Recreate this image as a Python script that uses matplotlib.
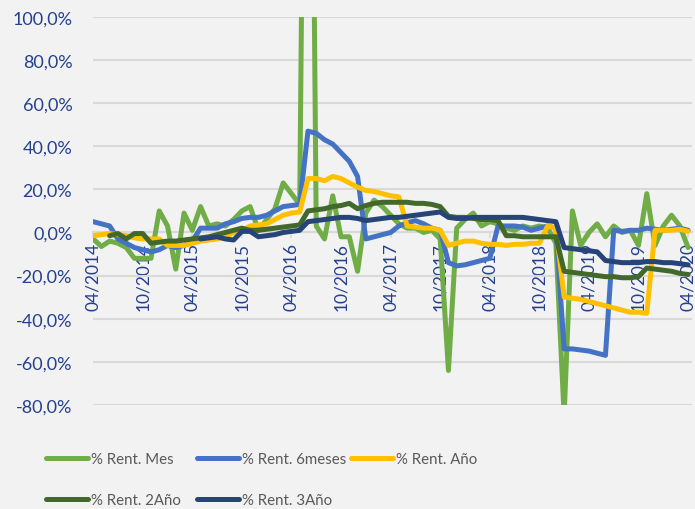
import numpy as np
import matplotlib.pyplot as plt
from matplotlib.ticker import FuncFormatter

plt.rcParams['font.family'] = ['Lato', 'DejaVu Sans']

nan = np.nan
# meses desde 04/2014 hasta 04/2020
months = np.arange(73)
tick_labels = ['04/2014', '10/2014', '04/2015', '10/2015', '04/2016', '10/2016',
               '04/2017', '10/2017', '04/2018', '10/2018', '04/2019', '10/2019',
               '04/2020']

rent_mes = [-3, -6.5, -4, -5, -7, -12, -12, -12, 10, 3, -17, 9, 1, 12, 3, 4, 3, 6,
            10, 12, 1, 6, 11, 23, 18, 13, 430, 3, -3, 17, -2, -2, -18, 9, 15, 12,
            8, 4, 2, 2, 0, 1, -3, -64, 2, 6, 9, 3, 5, 4, 2, 1, 3, 2, 3, 2, -5,
            -85, 10, -6, 0, 4, -2, 3, 0, 1, -6, 18, -6, 3, 8, 3, -7]
rent_6m = [5, 4, 3, -3, -5, -7, -8, -9, -8, -6, -7, -6, -4, 2, 2, 2, 4, 5, 6.5,
           7, 7, 8, 10, 12, 12.5, 13, 47, 46, 43, 41, 37, 33, 26, -3, -2, -1, 0,
           3, 4.5, 5.5, 4, 2, 1, -14, -15.5, -15, -14, -13, -12, 3, 3, 3, 2.5,
           1, 2, 3, 2, -54, -54, -54.5, -55, -56, -57, 1, 0.5, 1, 1, 2, 1.5, 1,
           1.5, 2, 1]
rent_ano = [-1.5, -1, -0.5, -1, -1.5, -2.5, -3, -3, -3, -6, -6, -6, -5, -4, -3.5,
            -3, -2, 0, 1, 3, 3.5, 4, 6, 8, 9, 9.5, 25, 25, 24, 26, 25, 23, 21,
            19.5, 19, 18, 17, 16.5, 3, 2.5, 2, 2, 1, -6, -5, -4, -4, -5, -5.5,
            -5.5, -6, -5.5, -5.5, -5, -5, 3, 2, -30, -30.5, -31, -32, -33, -34,
            -35, -36, -37, -37, -37.5, 1, 1, 1, 1.5, 0.5]
rent_2ano = [nan, nan, -1.5, -0.5, -3, -0.5, -0.5, -5, -4.5, -4, -4, -3.5, -3,
             -2.5, -2, -1, 0, 1, 2, 1, 1, 1.5, 2, 2.5, 3, 3.5, 10, 10.5, 11, 12,
             12.5, 13.5, 11, 12.5, 13.5, 14, 14, 14, 14, 13.5, 13.5, 13, 12, 7.5,
             7, 7, 6.5, 6, 6, 5.5, -1.5, -1.5, -2, -2, -2, -2, -2, -18, -18.5,
             -19, -19.5, -20, -20.5, -20.5, -21, -21, -20.5, -16.5, -17, -17.5,
             -18, -19, -19.5]
rent_3ano = [nan] * 13 + [-3, -2.5, -2, -3, -3.5, 0.5, 0.5, -2, -1.5, -1, 0, 0.5,
                          1, 5, 5.5, 6, 6.5, 7, 7, 6.5, 5.5, 6, 6.5, 7, 7, 7.5, 8,
                          8.5, 9, 9.5, 7, 6.5, 6.5, 7, 7, 7, 7, 7, 7, 7, 6.5, 6,
                          5.5, 5, -7, -7.5, -8, -8.5, -9, -13, -13.5, -14, -14,
                          -14, -13.5, -13.5, -14, -14, -14.5, -15]

series = [
    ('% Rent. Mes', rent_mes, '#70AD47'),
    ('% Rent. 6meses', rent_6m, '#4472C4'),
    ('% Rent. Año', rent_ano, '#FFC000'),
    ('% Rent. 2Año', rent_2ano, '#43682B'),
    ('% Rent. 3Año', rent_3ano, '#264478'),
]

bg = '#F2F2F2'
grid_c = '#D9D9D9'
lab_c = '#24408E'

fig = plt.figure(figsize=(6.95, 5.10), dpi=100, facecolor=bg)
ax = fig.add_axes([0.134, 0.204, 0.862, 0.761], facecolor=bg)

lines = {}
for name, vals, col in series:
    lines[name], = ax.plot(months, vals, color=col, lw=3.6, label=name,
                           solid_joinstyle='round', solid_capstyle='round', zorder=3)

ax.set_ylim(-80, 100)
ax.set_xlim(0, 72.5)
ax.grid(axis='y', color=grid_c, lw=1.5, zorder=0)
for s in ['top', 'right', 'left']:
    ax.spines[s].set_visible(False)
ax.spines['bottom'].set_position(('data', 0))
ax.spines['bottom'].set_color(grid_c)
ax.spines['bottom'].set_linewidth(1.5)
ax.spines['bottom'].set_zorder(1)

ax.set_yticks(np.arange(-80, 101, 20))
ax.yaxis.set_major_formatter(FuncFormatter(lambda v, p: f'{v:.1f}%'.replace('.', ',')))
ax.set_xticks(months[::6])
ax.set_xticklabels(tick_labels)
ax.tick_params(axis='y', length=0, labelsize=13, labelcolor=lab_c, pad=15)
ax.tick_params(axis='x', length=4, color=grid_c, width=1.2, labelsize=12.5,
               labelcolor=lab_c, pad=3, labelrotation=90)

# leyenda estilo Excel: columnas de ancho fijo
cols = [(['% Rent. Mes', '% Rent. 2Año'], 0.066),
        (['% Rent. 6meses', '% Rent. 3Año'], 0.283),
        (['% Rent. Año'], 0.505)]
for names, x0 in cols:
    leg = fig.legend([lines[n] for n in names], names, frameon=False,
                     loc='upper left', bbox_to_anchor=(x0, 0.112),
                     borderpad=0, borderaxespad=0,
                     fontsize=10.8, handlelength=2.8, handletextpad=0.2,
                     labelspacing=1.8)
    for t in leg.get_texts():
        t.set_color('#595959')

fig.savefig('out.png', dpi=100, facecolor=bg)
